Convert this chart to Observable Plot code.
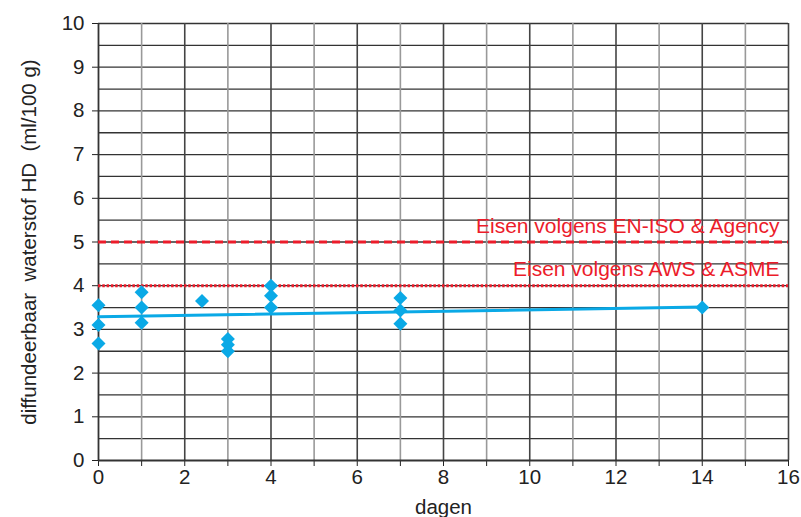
<!DOCTYPE html>
<html>
<head>
<meta charset="utf-8">
<script src="https://cdn.jsdelivr.net/npm/d3@7"></script>
<script src="https://cdn.jsdelivr.net/npm/@observablehq/plot@0.6"></script>
<style>
  html, body { margin: 0; padding: 0; background: #fff; }
</style>
</head>
<body>
<div id="chart"></div>
<script>
// Measurements: days vs diffusible hydrogen (ml/100 g)
const days   = [0, 0, 0, 1, 1, 1, 2.4, 3, 3, 3, 4, 4, 4, 7, 7, 7, 14];
const hd     = [3.55, 3.1, 2.68, 3.85, 3.5, 3.15, 3.65, 2.78, 2.65, 2.5, 4.0, 3.77, 3.5, 3.72, 3.43, 3.13, 3.5];

// Trend line
const trendDays = [0, 14];
const trendHd   = [3.29, 3.51];

// Requirement limits
const limitValues = [5, 4];
const limitLabels = ["Eisen volgens EN-ISO & Agency", "Eisen volgens AWS & ASME"];

// Tick labels / grid
const xTicks = [0, 1, 2, 3, 4, 5, 6, 7, 8, 9, 10, 11, 12, 13, 14, 15, 16];
const xEvenGrid = [2, 4, 6, 8, 10, 12, 14, 16];
const xOddGrid  = [1, 3, 5, 7, 9, 11, 13, 15];
const yTicks = [0, 1, 2, 3, 4, 5, 6, 7, 8, 9, 10];
const yGrid  = [0.5, 1, 1.5, 2, 2.5, 3, 3.5, 4, 4.5, 5, 5.5, 6, 6.5, 7, 7.5, 8, 8.5, 9, 9.5, 10];

const points = days.map((d, i) => ({x: d, y: hd[i]}));
const trend = trendDays.map((d, i) => ({x: d, y: trendHd[i]}));
const limits = limitValues.map((v, i) => ({y: v, label: limitLabels[i]}));

const red = "#ec1c2a";
const blue = "#0aa9e6";

const chart = Plot.plot({
  width: 801,
  height: 517,
  marginLeft: 98,
  marginRight: 13,
  marginTop: 23,
  marginBottom: 57,
  style: {fontFamily: "'Liberation Sans', Arial, sans-serif", fontSize: "20.5px", color: "#222", background: "#fff"},
  x: {
    domain: [0, 16],
    ticks: xTicks,
    tickFormat: d => (d % 2 === 0 ? d : ""),
    tickSize: 6,
    tickPadding: 3,
    label: "dagen",
    labelArrow: "none",
    labelAnchor: "center",
    labelOffset: 53
  },
  y: {
    domain: [0, 10],
    ticks: yTicks,
    tickSize: 6,
    tickPadding: 8,
    label: "diffundeerbaar  waterstof HD  (ml/100 g)",
    labelArrow: "none",
    labelAnchor: "center",
    labelOffset: 77
  },
  marks: [
    Plot.ruleY(yGrid, {y: d => d, stroke: "#333", strokeWidth: 1.3}),
    Plot.ruleX(xOddGrid, {x: d => d, stroke: "#999", strokeWidth: 1.6}),
    Plot.ruleX(xEvenGrid, {x: d => d, stroke: "#444", strokeWidth: 1.6}),
    Plot.ruleY([0], {stroke: "#333", strokeWidth: 1.8}),
    Plot.ruleX([0], {stroke: "#333", strokeWidth: 1.8}),
    Plot.ruleY(limits.slice(0, 1), {y: "y", stroke: red, strokeWidth: 3, strokeDasharray: "8,5"}),
    Plot.ruleY(limits.slice(1, 2), {y: "y", stroke: red, strokeWidth: 3, strokeDasharray: "2.5,1.8"}),
    Plot.text(limits, {x: 16, y: "y", text: "label", textAnchor: "end", dx: -9, dy: -16, fill: red, fontSize: 21}),
    Plot.line(trend, {x: "x", y: "y", stroke: blue, strokeWidth: 3}),
    Plot.dot(points, {x: "x", y: "y", symbol: "diamond2", r: 6.3, fill: blue, stroke: "none"})
  ]
});

document.getElementById("chart").appendChild(chart);
</script>
</body>
</html>
